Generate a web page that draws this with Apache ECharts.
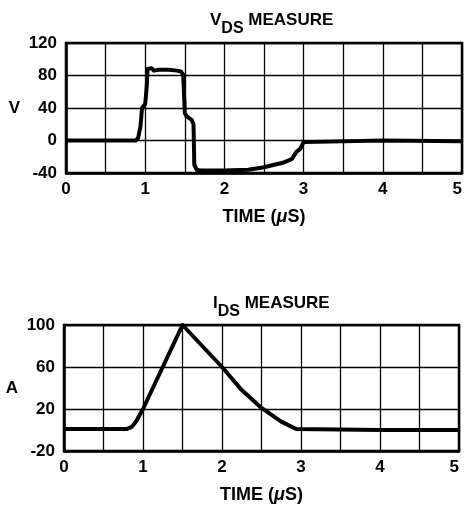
<!DOCTYPE html>
<html>
<head>
<meta charset="utf-8">
<script src="https://cdn.jsdelivr.net/npm/echarts@6/dist/echarts.min.js"></script>
<style>
html,body{margin:0;padding:0;background:#fff;}
#c{width:464px;height:510px;}
</style>
</head>
<body>
<div id="c"></div>
<script>
// ---- data ----
const vdsTime = [0, 0.88, 0.91, 0.94, 0.96, 1.0, 1.02, 1.03, 1.05, 1.08, 1.11, 1.17, 1.3, 1.4, 1.45, 1.48, 1.5, 1.52, 1.59, 1.61, 1.62, 1.65, 1.7, 2.0, 2.3, 2.5, 2.75, 2.85, 2.91, 2.96, 3.0, 3.02, 4.0, 5.0];
const vdsValue = [0, 0, 3, 17, 40, 45, 67, 88, 90, 89, 86, 87, 87, 86, 85, 81, 34, 30, 25, 20, -30, -36, -37, -37, -36, -33, -27, -23, -14, -10, -2, 0, 0, -1];
const idsTime = [0, 0.8, 0.86, 0.92, 1.0, 1.5, 2.0, 2.25, 2.5, 2.75, 2.94, 4.0, 5.0];
const idsValue = [1, 1, 3, 9, 20, 100, 60, 38, 21, 8, 1, 0, 0];
const timeTicks = [0, 1, 2, 3, 4, 5];
const timeGrid = [0, 0.5, 1, 1.5, 2, 2.5, 3, 3.5, 4, 4.5, 5];
const vdsTicks = [-40, 0, 40, 80, 120];
const idsTicks = [-20, 20, 60, 100];

const FONT = "'Liberation Sans', Arial, sans-serif";
const pair = (xs, ys) => xs.map((x, i) => [x, ys[i]]);

const chart = echarts.init(document.getElementById('c'), null, {renderer: 'canvas'});

function titleRich() {
  return {
    a: {fontFamily: FONT, fontWeight: 'bold', fontSize: 17, color: '#000', verticalAlign: 'top', lineHeight: 25},
    b: {fontFamily: FONT, fontWeight: 'bold', fontSize: 16, color: '#000', verticalAlign: 'bottom', lineHeight: 25}
  };
}
const nameRich = {
  a: {fontFamily: FONT, fontWeight: 'bold', fontSize: 18, color: '#000'},
  i: {fontFamily: FONT, fontWeight: 'bold', fontStyle: 'italic', fontSize: 18, color: '#000'}
};

function xAxisCfg(gridIndex) {
  return {
    type: 'value', gridIndex: gridIndex, min: 0, max: 5,
    name: '{a|TIME (}{i|μ}{a|S)}',
    nameLocation: 'middle', nameGap: 35,
    nameTextStyle: {rich: nameRich},
    axisLine: {show: true, onZero: false, lineStyle: {color: '#000', width: 2.5}},
    axisTick: {show: false, customValues: timeGrid},
    axisLabel: {customValues: timeTicks, margin: 8, alignMaxLabel: 'right', color: '#000', fontFamily: FONT, fontWeight: 'bold', fontSize: 17},
    splitLine: {show: true, lineStyle: {color: '#000', width: 1.3}}
  };
}
function yAxisCfg(gridIndex, name, ticks) {
  return {
    type: 'value', gridIndex: gridIndex,
    min: ticks[0], max: ticks[ticks.length - 1],
    name: name, nameLocation: 'middle', nameRotate: 0, nameGap: 46,
    nameTextStyle: {color: '#000', fontFamily: FONT, fontWeight: 'bold', fontSize: 17},
    axisLine: {show: true, onZero: false, lineStyle: {color: '#000', width: 2.5}},
    axisTick: {show: false, customValues: ticks},
    axisLabel: {customValues: ticks, margin: 9, color: '#000', fontFamily: FONT, fontWeight: 'bold', fontSize: 17},
    splitLine: {show: true, lineStyle: {color: '#000', width: 1.3}}
  };
}

chart.setOption({
  backgroundColor: '#fff',
  animation: false,
  title: [
    {text: '{a|V}{b|DS}{a| MEASURE}', left: 205, top: 7, textStyle: {rich: titleRich()}},
    {text: '{a|I}{b|DS}{a| MEASURE}', left: 208, top: 290, textStyle: {rich: titleRich()}}
  ],
  grid: [
    {left: 66, right: 2, top: 43, height: 130, show: true, borderColor: '#000', borderWidth: 2.5, backgroundColor: '#fff', outerBoundsMode: 'none', containLabel: false},
    {left: 64, right: 5, top: 325, height: 126, show: true, borderColor: '#000', borderWidth: 2.5, backgroundColor: '#fff', outerBoundsMode: 'none', containLabel: false}
  ],
  xAxis: [xAxisCfg(0), xAxisCfg(1)],
  yAxis: [yAxisCfg(0, 'V', vdsTicks), yAxisCfg(1, 'A', idsTicks)],
  series: [
    {type: 'line', xAxisIndex: 0, yAxisIndex: 0, data: pair(vdsTime, vdsValue), showSymbol: false,
     lineStyle: {color: '#000', width: 4, join: 'round'}},
    {type: 'line', xAxisIndex: 1, yAxisIndex: 1, data: pair(idsTime, idsValue), showSymbol: false,
     lineStyle: {color: '#000', width: 4, join: 'round'}}
  ]
});
</script>
</body>
</html>
